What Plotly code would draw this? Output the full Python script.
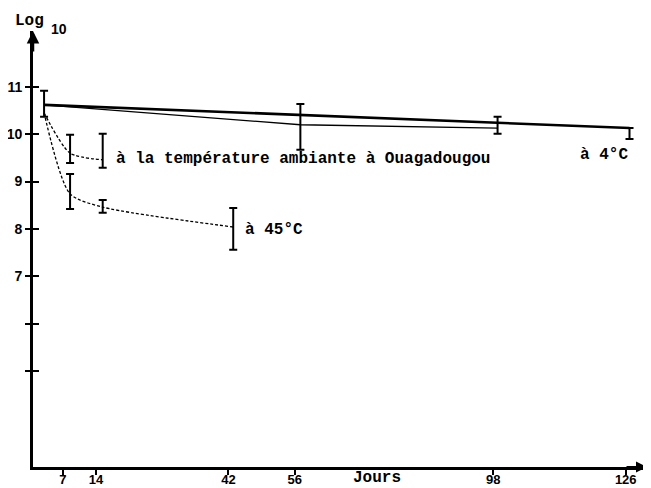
import plotly.graph_objects as go

# ---- data ----
# à 4°C (thick straight line)
days_cold = [3, 126.8]
log_cold = [10.62, 10.13]
cold_err_plus = [0.30, 0.0]
cold_err_minus = [0.25, 0.23]

# second (thin) solid line
days_cold2 = [3, 57.2, 98.9]
log_cold2 = [10.62, 10.20, 10.13]
cold2_err_plus = [0.0, 0.44, 0.24]
cold2_err_minus = [0.0, 0.53, 0.12]

# à la température ambiante à Ouagadougou (dashed)
days_amb = [3, 8.5, 15.4]
log_amb = [10.45, 9.60, 9.46]
amb_err_plus = [0.0, 0.39, 0.55]
amb_err_minus = [0.0, 0.21, 0.17]

# à 45°C (dashed)
days_hot = [3, 8.5, 15.4, 43]
log_hot = [10.45, 8.74, 8.46, 8.04]
hot_err_plus = [0.0, 0.42, 0.15, 0.40]
hot_err_minus = [0.0, 0.32, 0.12, 0.48]

x_tick_vals = [7, 14, 42, 56, 98, 126]
x_tick_text = ["7", "14", "42", "56", "98", "126"]
y_tick_vals = [5, 6, 7, 8, 9, 10, 11]
y_tick_text = ["", "", "7", "8", "9", "10", "11"]

label_amb = "à la température ambiante à Ouagadougou"
label_hot = "à 45°C"
label_cold = "à 4°C"
x_title = "Jours"
y_title = "Log"
y_title_sub = "10"

MONO = "Liberation Mono"
SANS = "Liberation Sans"

fig = go.Figure()


def add_line(xs, ys, width, dash, shape="linear", smoothing=1.0):
    fig.add_trace(go.Scatter(
        x=xs, y=ys, mode="lines",
        line=dict(color="black", width=width, dash=dash, shape=shape, smoothing=smoothing),
        showlegend=False, hoverinfo="skip"))


def add_errors(xs, ys, plus, minus):
    idx = [i for i in range(len(xs)) if plus[i] > 0 or minus[i] > 0]
    fig.add_trace(go.Scatter(
        x=[xs[i] for i in idx], y=[ys[i] for i in idx], mode="markers",
        marker=dict(size=1, color="rgba(0,0,0,0)"),
        error_y=dict(type="data", symmetric=False,
                     array=[plus[i] for i in idx],
                     arrayminus=[minus[i] for i in idx],
                     color="black", thickness=2, width=4),
        showlegend=False, hoverinfo="skip"))


add_line(days_cold2, log_cold2, 1.3, "solid")
add_line(days_cold, log_cold, 2.6, "solid")
add_line(days_amb, log_amb, 1.3, "3px,2px", "spline", 0.7)
add_line(days_hot, log_hot, 1.3, "3px,2px", "spline", 0.7)

add_errors(days_cold, log_cold, cold_err_plus, cold_err_minus)
add_errors(days_cold2, log_cold2, cold2_err_plus, cold2_err_minus)
add_errors(days_amb, log_amb, amb_err_plus, amb_err_minus)
add_errors(days_hot, log_hot, hot_err_plus, hot_err_minus)

# invisible trace to hold the overlay axis (for ticks crossing the y axis)
fig.add_trace(go.Scatter(x=[None], y=[None], yaxis="y2", mode="markers",
                         showlegend=False, hoverinfo="skip"))

annot_font = dict(family=MONO, size=16, color="black", weight="bold")
annotations = [
    dict(x=17.8, y=9.48, xref="x", yref="y", text=label_amb, showarrow=False,
         xanchor="left", yanchor="middle", font=annot_font),
    dict(x=45.0, y=7.98, xref="x", yref="y", text=label_hot, showarrow=False,
         xanchor="left", yanchor="middle", font=annot_font),
    dict(x=115.9, y=9.56, xref="x", yref="y", text=label_cold, showarrow=False,
         xanchor="left", yanchor="middle", font=annot_font),
    dict(x=73.4, y=-0.026, xref="x", yref="paper", text=x_title, showarrow=False,
         xanchor="center", yanchor="middle", font=annot_font),
    dict(x=-0.033, y=1.022, xref="paper", yref="paper", text=y_title, showarrow=False,
         xanchor="left", yanchor="middle",
         font=dict(family=MONO, size=16, color="black", weight="bold")),
    dict(x=0.026, y=1.004, xref="paper", yref="paper", text=y_title_sub, showarrow=False,
         xanchor="left", yanchor="middle",
         font=dict(family=SANS, size=14, color="black", weight="bold")),
    # axis arrows
    dict(x=0, y=1, xref="paper", yref="paper", ax=0, ay=22, axref="pixel", ayref="pixel",
         text="", showarrow=True, arrowhead=2, arrowsize=1, arrowwidth=2.5, arrowcolor="black"),
    dict(x=1, y=0, xref="paper", yref="paper", ax=-22, ay=0, axref="pixel", ayref="pixel",
         text="", showarrow=True, arrowhead=2, arrowsize=1, arrowwidth=2.2, arrowcolor="black"),
]

fig.update_layout(
    width=643, height=480,
    margin=dict(l=25, r=4, t=23, b=21, pad=0, autoexpand=False),
    paper_bgcolor="white", plot_bgcolor="white",
    showlegend=False,
    annotations=annotations,
    xaxis=dict(range=[0.66, 130.5], tickvals=x_tick_vals, ticktext=x_tick_text,
               ticks="outside", ticklen=5, tickwidth=1.5, tickcolor="black",
               showline=True, linewidth=2.5, linecolor="black",
               showgrid=False, zeroline=False, automargin=False,
               ticklabelstandoff=-6,
               tickfont=dict(family=SANS, size=13, color="black", weight="bold")),
    yaxis=dict(range=[2.97, 12.18], tickvals=y_tick_vals, ticktext=y_tick_text,
               ticks="outside", ticklen=5, tickwidth=2, tickcolor="black",
               showline=True, linewidth=3, linecolor="black",
               showgrid=False, zeroline=False, automargin=False,
               tickfont=dict(family=SANS, size=14, color="black", weight="bold")),
    yaxis2=dict(overlaying="y", matches="y", anchor="x", side="left",
                tickvals=y_tick_vals, ticks="inside", ticklen=6, tickwidth=2,
                tickcolor="black", showticklabels=False, showline=False,
                showgrid=False, zeroline=False, automargin=False),
)

fig.write_html("out.html")
